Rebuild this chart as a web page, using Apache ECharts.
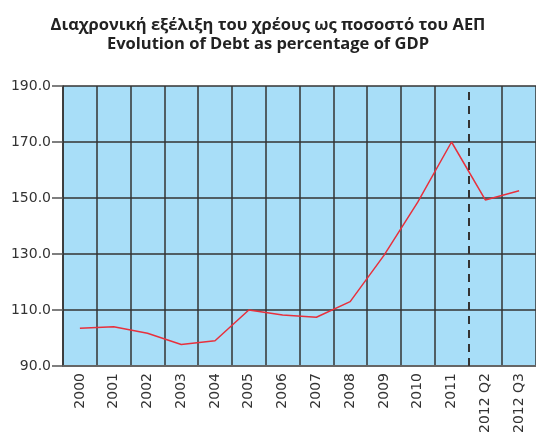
<!DOCTYPE html>
<html>
<head>
<meta charset="utf-8">
<script src="https://cdn.jsdelivr.net/npm/echarts@6/dist/echarts.min.js"></script>
<style>
  html, body { margin: 0; padding: 0; background: #fff; }
  #chart { width: 536px; height: 432px; }
</style>
</head>
<body>
<div id="chart"></div>
<script>
// categories / values
const periods = ["2000", "2001", "2002", "2003", "2004", "2005", "2006", "2007",
                 "2008", "2009", "2010", "2011", "2012 Q2", "2012 Q3"];
const debt = [103.5, 104.0, 101.7, 97.7, 99.0, 110.0, 108.2, 107.4,
              113.0, 129.5, 148.5, 170.0, 149.3, 152.6];
const yTicks = [90, 110, 130, 150, 170, 190];
const splitAt = 12; // boundary between 2011 and 2012 Q2 drawn dashed

let myChart = echarts.init(document.getElementById('chart'));

// solid boundaries everywhere except the dashed one
let vColors = [];
for (let i = 0; i <= periods.length; i++) {
    vColors.push(i === splitAt ? 'rgba(0,0,0,0)' : '#333');
}

let option = {
    animation: false,
    title: {
        text: 'Διαχρονική εξέλιξη του χρέους ως ποσοστό του ΑΕΠ\nEvolution of Debt as percentage of GDP',
        left: 'center',
        top: 11,
        textStyle: {
            fontFamily: 'Open Sans',
            fontWeight: 'bold',
            fontSize: 16.5,
            lineHeight: 19,
            color: '#222',
        },
    },
    grid: {
        left: 63,
        top: 86,
        right: 0,
        bottom: 66,
        outerBoundsMode: 'none',
        containLabel: false,
        show: true,
        backgroundColor: '#a8def8',
        borderWidth: 0,
    },
    xAxis: [{
        type: 'category',
        data: periods,
        boundaryGap: true,
        axisLine: { lineStyle: { color: '#666', width: 2 } },
        axisTick: { show: false },
        axisLabel: {
            rotate: 90,
            margin: 7,
            interval: 0,
            fontFamily: 'DejaVu Sans',
            fontSize: 14,
            color: '#333',
        },
        splitLine: {
            show: true,
            interval: 0,
            lineStyle: { color: vColors, width: 1.5 },
        },
    }, {
        type: 'value',
        min: 0,
        max: periods.length,
        show: false,
    }],
    yAxis: {
        type: 'value',
        min: yTicks[0],
        max: yTicks[yTicks.length - 1],
        interval: 20,
        axisLine: { show: true, lineStyle: { color: '#333', width: 1.5 } },
        axisTick: { show: true, length: 11, lineStyle: { color: '#555', width: 1.5 } },
        axisLabel: {
            margin: 12,
            fontFamily: 'DejaVu Sans',
            fontSize: 14,
            color: '#333',
            formatter: function (v) { return v.toFixed(1); },
        },
        splitLine: { lineStyle: { color: '#333', width: 1.5 } },
    },
    series: [{
        type: 'line',
        data: debt,
        symbol: 'none',
        lineStyle: { color: '#e8303c', width: 1.5 },
    }, {
        type: 'line',
        xAxisIndex: 1,
        data: [],
        markLine: {
            silent: true,
            symbol: 'none',
            label: { show: false },
            lineStyle: { color: '#333', type: [8, 6], width: 2 },
            data: [{ xAxis: splitAt }],
        },
    }],
};
myChart.setOption(option);
</script>
</body>
</html>
